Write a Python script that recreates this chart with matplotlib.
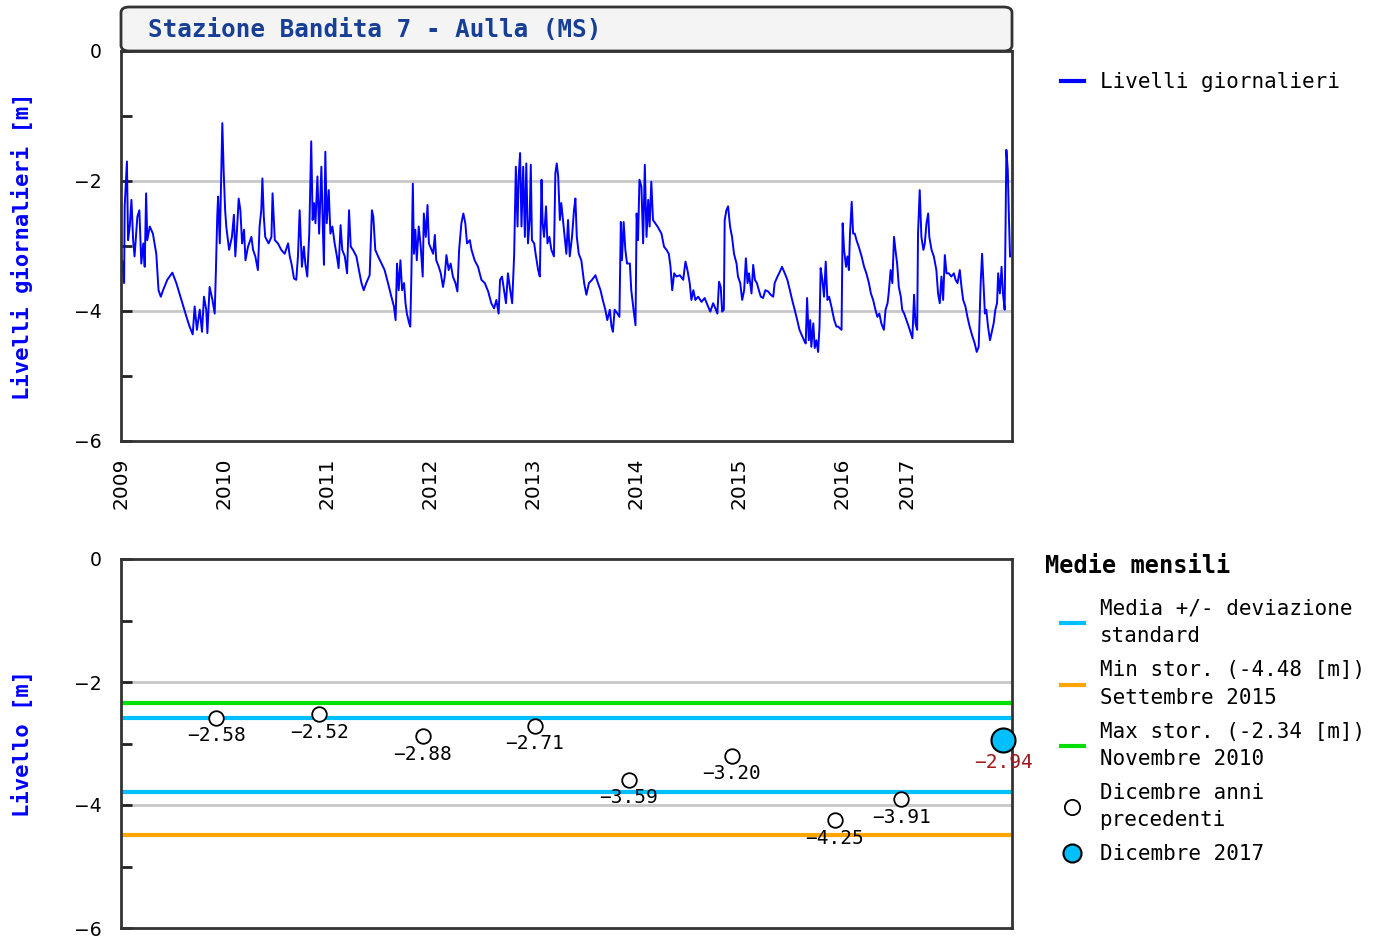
import numpy as np
import matplotlib.pyplot as plt
from matplotlib.lines import Line2D
from matplotlib.patches import FancyBboxPatch

# giorno di misura (indice dall'inizio della serie) e livello giornaliero [m]
giorni = [
    0, 4, 11, 13, 21, 25, 31, 37, 43, 48, 58, 65, 72, 79, 84, 89, 93, 102, 113, 125,
    133, 141, 149, 164, 182, 196, 214, 232, 243, 254, 261, 269, 279, 287, 294, 302, 306, 314, 324, 332,
    336, 341, 344, 350, 359, 364, 369, 373, 383, 393, 400, 405, 411, 417, 423, 429, 436, 441, 450, 462,
    468, 476, 485, 491, 497, 501, 506, 511, 523, 533, 537, 545, 556, 568, 580, 592, 598, 604, 613, 621,
    627, 633, 641, 648, 653, 660, 667, 674, 679, 684, 689, 696, 702, 710, 715, 719, 724, 729, 736, 742,
    749, 757, 765, 771, 778, 784, 793, 801, 808, 814, 822, 834, 843, 852, 860, 869, 881, 889, 894, 901,
    911, 923, 934, 946, 958, 967, 973, 978, 984, 990, 996, 1003, 1008, 1013, 1021, 1025, 1029, 1034, 1038, 1043,
    1048, 1055, 1062, 1069, 1073, 1080, 1086, 1091, 1106, 1112, 1117, 1126, 1133, 1141, 1147, 1153, 1161, 1168, 1176, 1185,
    1192, 1198, 1206, 1213, 1220, 1226, 1236, 1242, 1253, 1265, 1277, 1289, 1301, 1312, 1322, 1330, 1338, 1343, 1350, 1357,
    1364, 1371, 1379, 1386, 1393, 1399, 1405, 1409, 1414, 1419, 1425, 1431, 1436, 1442, 1448, 1452, 1456, 1464, 1469, 1478,
    1484, 1490, 1494, 1499, 1506, 1511, 1518, 1525, 1534, 1539, 1544, 1549, 1555, 1560, 1566, 1572, 1578, 1584, 1590, 1598,
    1605, 1610, 1615, 1622, 1631, 1641, 1649, 1658, 1669, 1681, 1690, 1699, 1707, 1716, 1723, 1732, 1738, 1743, 1749, 1759,
    1766, 1771, 1775, 1781, 1787, 1793, 1803, 1808, 1816, 1823, 1827, 1832, 1837, 1844, 1850, 1856, 1862, 1868, 1873, 1879,
    1885, 1893, 1901, 1915, 1924, 1933, 1941, 1947, 1953, 1960, 1968, 1980, 1992, 2000, 2007, 2015, 2021, 2028, 2035, 2045,
    2057, 2068, 2080, 2088, 2098, 2106, 2113, 2119, 2125, 2130, 2136, 2139, 2145, 2151, 2158, 2165, 2172, 2181, 2186, 2194,
    2201, 2208, 2214, 2220, 2225, 2234, 2240, 2246, 2253, 2260, 2267, 2275, 2283, 2293, 2302, 2311, 2316, 2326, 2334, 2342,
    2352, 2361, 2370, 2378, 2387, 2396, 2404, 2413, 2420, 2426, 2431, 2437, 2442, 2446, 2453, 2458, 2464, 2470, 2475, 2479,
    2485, 2491, 2497, 2503, 2509, 2517, 2527, 2535, 2541, 2553, 2557, 2562, 2569, 2574, 2579, 2583, 2589, 2594, 2600, 2606,
    2614, 2624, 2633, 2641, 2650, 2657, 2665, 2673, 2680, 2687, 2694, 2703, 2709, 2716, 2720, 2727, 2733, 2739, 2744, 2750,
    2756, 2763, 2768, 2775, 2783, 2791, 2798, 2804, 2810, 2815, 2821, 2824, 2830, 2836, 2843, 2848, 2854, 2860, 2864, 2872,
    2880, 2889, 2895, 2901, 2907, 2913, 2919, 2925, 2933, 2942, 2951, 2957, 2964, 2972, 2978, 2984, 2992, 2999, 3007, 3016,
    3025, 3032, 3039, 3046, 3051, 3056, 3061, 3066, 3072, 3079, 3087, 3092, 3098, 3104, 3108, 3114, 3120, 3125, 3131, 3137,
    3142, 3146, 3150,
]
livelli = [
    -3.40, -3.22, -3.57, -2.39, -1.70, -2.91, -2.70, -2.29, -2.91, -3.16, -2.55, -2.45, -3.27, -2.96, -3.32, -2.19, -2.91, -2.70, -2.81, -3.12,
    -3.68, -3.78, -3.68, -3.52, -3.41, -3.57, -3.83, -4.09, -4.24, -4.36, -3.93, -4.29, -3.98, -4.32, -3.78, -3.98, -4.34, -3.63, -3.83, -4.04,
    -3.42, -2.55, -2.24, -2.96, -1.11, -1.88, -2.45, -2.70, -3.06, -2.86, -2.52, -3.16, -2.75, -2.27, -2.45, -2.96, -2.75, -3.22, -3.01, -2.86,
    -3.06, -3.16, -3.37, -2.70, -2.45, -1.96, -2.55, -2.86, -2.96, -2.86, -2.19, -2.91, -2.96, -3.06, -3.12, -2.96, -3.16, -3.27, -3.50, -3.52,
    -3.16, -2.45, -3.32, -3.01, -3.27, -3.47, -2.81, -1.39, -2.60, -2.34, -2.65, -1.93, -2.81, -1.78, -2.70, -3.29, -1.55, -2.65, -2.14, -2.81,
    -2.70, -2.96, -3.16, -3.34, -2.68, -3.06, -3.16, -3.42, -2.45, -3.01, -3.06, -3.16, -3.37, -3.57, -3.68, -3.57, -3.45, -2.45, -2.55, -3.06,
    -3.16, -3.27, -3.37, -3.57, -3.78, -3.93, -4.14, -3.27, -3.68, -3.22, -3.68, -3.57, -3.88, -4.04, -4.19, -4.24, -3.42, -2.04, -3.12, -2.75,
    -3.22, -2.70, -3.01, -3.47, -2.50, -2.86, -2.37, -2.96, -3.12, -2.83, -3.22, -3.32, -3.42, -3.63, -3.47, -3.14, -3.37, -3.27, -3.47, -3.57,
    -3.70, -3.06, -2.65, -2.50, -2.65, -2.96, -2.91, -3.06, -3.22, -3.32, -3.52, -3.57, -3.70, -3.88, -3.96, -3.83, -4.04, -3.52, -3.47, -3.68,
    -3.88, -3.42, -3.68, -3.88, -3.14, -1.78, -2.70, -1.93, -1.57, -2.70, -1.78, -2.86, -1.73, -2.96, -2.60, -1.75, -2.91, -2.96, -3.12, -3.37,
    -3.47, -1.98, -2.65, -2.86, -2.39, -2.96, -2.86, -3.06, -3.16, -1.88, -1.73, -1.93, -2.60, -2.34, -2.60, -2.86, -3.12, -2.60, -3.16, -2.86,
    -2.45, -2.27, -2.86, -3.12, -3.22, -3.57, -3.75, -3.57, -3.52, -3.45, -3.57, -3.68, -3.83, -3.98, -4.14, -3.98, -4.24, -4.32, -3.98, -4.04,
    -4.09, -2.63, -3.22, -2.63, -3.06, -3.27, -3.27, -3.68, -3.98, -4.22, -2.50, -2.91, -1.98, -2.09, -2.96, -1.75, -2.86, -2.29, -2.70, -2.01,
    -2.60, -2.65, -2.70, -2.81, -3.01, -3.06, -3.12, -3.32, -3.68, -3.42, -3.47, -3.45, -3.52, -3.24, -3.37, -3.57, -3.83, -3.68, -3.83, -3.78,
    -3.86, -3.80, -3.93, -4.01, -3.88, -3.96, -4.04, -3.55, -3.63, -4.01, -3.98, -2.60, -2.45, -2.39, -2.70, -2.86, -3.12, -3.27, -3.47, -3.57,
    -3.83, -3.68, -3.19, -3.57, -3.42, -3.73, -3.29, -3.52, -3.57, -3.68, -3.78, -3.80, -3.68, -3.70, -3.75, -3.78, -3.57, -3.47, -3.40, -3.32,
    -3.42, -3.52, -3.68, -3.83, -3.98, -4.14, -4.29, -4.38, -4.45, -4.50, -3.80, -4.45, -4.14, -4.55, -4.19, -4.57, -4.45, -4.63, -4.24, -3.34,
    -3.52, -3.78, -3.24, -3.83, -3.78, -3.93, -4.14, -4.24, -4.24, -4.29, -2.65, -3.06, -3.32, -3.16, -3.37, -2.81, -2.32, -2.81, -2.81, -2.91,
    -3.01, -3.16, -3.32, -3.42, -3.57, -3.73, -3.83, -3.98, -4.09, -4.04, -4.19, -4.29, -3.98, -3.88, -3.73, -3.37, -3.57, -2.86, -3.06, -3.27,
    -3.63, -3.78, -3.98, -4.04, -4.14, -4.24, -4.34, -4.42, -3.75, -4.19, -4.29, -2.81, -2.14, -2.86, -3.06, -2.96, -2.65, -2.50, -2.86, -3.06,
    -3.16, -3.37, -3.73, -3.88, -3.47, -3.83, -3.14, -3.42, -3.42, -3.47, -3.42, -3.52, -3.57, -3.37, -3.63, -3.83, -3.93, -4.09, -4.24, -4.38,
    -4.50, -4.63, -4.55, -3.57, -3.12, -3.57, -4.04, -3.98, -4.24, -4.45, -4.29, -4.19, -3.98, -3.88, -3.42, -3.73, -3.32, -3.73, -3.98, -1.52,
    -1.83, -2.55, -3.16,
]

anni = ["2009", "2010", "2011", "2012", "2013", "2014", "2015", "2016", "2017"]
inizio_anno = [0, 365, 730, 1095, 1461, 1826, 2191, 2556, 2785]
fine_serie = 3157

# medie di dicembre
giorni_dicembre = [337, 702, 1070, 1467, 1800, 2165, 2530, 2764]
medie_dicembre = [-2.58, -2.52, -2.88, -2.71, -3.59, -3.20, -4.25, -3.91]
giorno_dic_2017 = 3126
media_dic_2017 = -2.94

media_piu_std = -2.59
media_meno_std = -3.79
min_stor = -4.48
max_stor = -2.34

W, H = 1381, 942
mono = "DejaVu Sans Mono"
titolo_col = "#163f95"

fig = plt.figure(figsize=(W / 100, H / 100), dpi=100)

def style_axis(ax):
    ax.set_ylim(-6, 0)
    ax.set_xlim(0, fine_serie)
    ax.set_yticks([0, -2, -4, -6])
    ax.set_yticks([-1, -3, -5], minor=True)
    ax.set_yticklabels(["0", "\u22122", "\u22124", "\u22126"])
    ax.tick_params(axis="y", which="both", direction="in", length=8, width=2,
                   pad=14, labelsize=13.5, color="#222222")
    for s in ax.spines.values():
        s.set_linewidth(2)
        s.set_color("#333333")
    for g in [-2, -4]:
        ax.axhline(g, color="#c8c8c8", lw=2, zorder=0)

def style_legend(leg):
    for t in leg.get_texts():
        t.set_linespacing(1.45)

# pannello superiore
ax1 = fig.add_axes([121 / W, 1 - 441 / H, 891 / W, 390 / H])
style_axis(ax1)
ax1.plot(giorni, livelli, color="#0000ff", lw=1.4)
ax1.set_xticks(inizio_anno)
ax1.set_xticklabels(anni, rotation=90, fontsize=14.5)
ax1.tick_params(axis="x", length=0, pad=12)
ax1.set_ylabel("Livelli giornalieri [m]", color="#0000ff", fontsize=16,
               fontweight="bold", family=mono)
ax1.yaxis.set_label_coords(-88 / 891, 0.5)

# riquadro del titolo
box = FancyBboxPatch((121 / W, 1 - 51 / H), 891 / W, 44 / H,
                     boxstyle="round,pad=0,rounding_size=0.006",
                     transform=fig.transFigure, facecolor="#f4f4f4",
                     edgecolor="#333333", lw=2, zorder=0)
fig.patches.append(box)
fig.text(148 / W, 1 - 30 / H, "Stazione Bandita 7 - Aulla (MS)", color=titolo_col,
         fontsize=17.5, fontweight="bold", family=mono, va="center", ha="left")

leg1 = fig.legend(handles=[Line2D([], [], color="#0000ff", lw=3)],
                  labels=["Livelli giornalieri"], loc="upper left",
                  bbox_to_anchor=(1061 / W, 1 - 72 / H), frameon=False,
                  prop={"family": mono, "size": 15}, handlelength=1.1,
                  handletextpad=0.75, borderpad=0, borderaxespad=0)

# pannello inferiore
ax2 = fig.add_axes([121 / W, 1 - 928 / H, 891 / W, 369 / H])
style_axis(ax2)
ax2.set_xticks([])
ax2.axhline(max_stor, color="#00e000", lw=3, zorder=1)
ax2.axhline(media_piu_std, color="#00bfff", lw=3, zorder=1)
ax2.axhline(media_meno_std, color="#00bfff", lw=3, zorder=1)
ax2.axhline(min_stor, color="#ffa500", lw=3, zorder=1)
ax2.scatter(giorni_dicembre, medie_dicembre, s=110, facecolor="white",
            edgecolor="black", lw=1.3, zorder=3)
for x, y in zip(giorni_dicembre, medie_dicembre):
    ax2.annotate("{0:.2f}".format(y).replace("-", "\u2212"), (x, y), xytext=(0, -13),
                 textcoords="offset points", ha="center", va="center",
                 fontsize=14, family=mono, color="black", zorder=4)
ax2.scatter([giorno_dic_2017], [media_dic_2017], s=300, facecolor="#00bfff",
            edgecolor="black", lw=1.5, zorder=5, clip_on=False)
ax2.annotate("{0:.2f}".format(media_dic_2017).replace("-", "\u2212"),
             (giorno_dic_2017, media_dic_2017), xytext=(0, -16),
             textcoords="offset points", ha="center", va="center",
             fontsize=14, family=mono, color="#a01818", zorder=4,
             annotation_clip=False)
ax2.set_ylabel("Livello [m]", color="#0000ff", fontsize=16,
               fontweight="bold", family=mono)
ax2.yaxis.set_label_coords(-88 / 891, 0.5)

fig.text(1045 / W, 1 - 566 / H, "Medie mensili", fontsize=17, fontweight="bold",
         family=mono, va="center", ha="left")
handles = [
    Line2D([], [], color="#00bfff", lw=3),
    Line2D([], [], color="#ffa500", lw=3),
    Line2D([], [], color="#00e000", lw=3),
    Line2D([], [], ls="none", marker="o", ms=11, mfc="white", mec="black", mew=1.3),
    Line2D([], [], ls="none", marker="o", ms=13, mfc="#00bfff", mec="black", mew=1.5),
]
labels = [
    "Media +/- deviazione\nstandard",
    "Min stor. (-4.48 [m])\nSettembre 2015",
    "Max stor. (-2.34 [m])\nNovembre 2010",
    "Dicembre anni\nprecedenti",
    "Dicembre 2017",
]
leg2 = fig.legend(handles=handles, labels=labels, loc="upper left",
                  bbox_to_anchor=(1061 / W, 1 - 599 / H), frameon=False,
                  prop={"family": mono, "size": 15}, handlelength=1.1,
                  handletextpad=0.75, borderpad=0, borderaxespad=0, labelspacing=0.68)
style_legend(leg2)

fig.savefig("out.png", dpi=100)
